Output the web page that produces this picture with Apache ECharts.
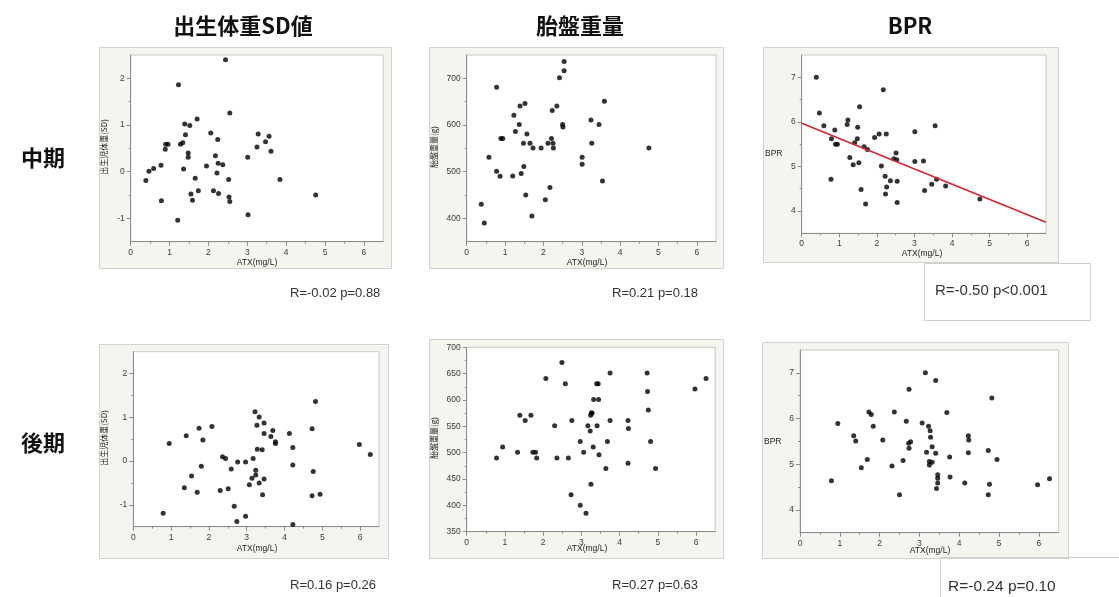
<!DOCTYPE html>
<html><head><meta charset="utf-8">
<script src="https://cdn.jsdelivr.net/npm/echarts@6/dist/echarts.min.js"></script>
<style>html,body{margin:0;padding:0;background:#fff}#c{width:1119px;height:597px}</style>
</head><body><div id="c"></div>
<script>
// ---- data ----
const colTitles = ['出生体重SD値', '胎盤重量', 'BPR'];
const rowTitles = ['中期', '後期'];
const xName = 'ATX(mg/L)';
const yNames = ['出生児体重(SD)', '胎盤重量(g)', 'BPR'];
const statTexts = ['R=-0.02 p=0.88', 'R=0.21 p=0.18', 'R=-0.50 p<0.001', 'R=0.16 p=0.26', 'R=0.27 p=0.63', 'R=-0.24 p=0.10'];
const xTicks = [0, 1, 2, 3, 4, 5, 6];
const yTicksSD = [-1, 0, 1, 2];
const yTicksPlacentaMid = [400, 500, 600, 700];
const yTicksPlacentaLate = [350, 400, 450, 500, 550, 600, 650, 700];
const yTicksBPR = [4, 5, 6, 7];

const midSD = [[0.39,-0.19],[0.47,0.01],[0.59,0.07],[0.78,0.14],[0.79,-0.62],[0.89,0.48],[0.90,0.59],[0.96,0.59],[1.23,1.86],[1.21,-1.04],[1.28,0.59],[1.34,0.62],[1.36,0.06],[1.39,1.02],[1.41,0.79],[1.48,0.40],[1.48,0.31],[1.52,0.99],[1.55,-0.48],[1.59,-0.61],[1.66,-0.14],[1.71,1.13],[1.74,-0.41],[1.95,0.12],[2.06,0.83],[2.13,-0.41],[2.18,0.34],[2.22,-0.03],[2.24,0.69],[2.25,0.18],[2.26,-0.47],[2.37,0.15],[2.44,2.40],[2.52,-0.17],[2.53,-0.54],[2.55,1.26],[2.55,-0.64],[3.01,0.31],[3.02,-0.92],[3.25,0.53],[3.28,0.81],[3.47,0.64],[3.56,0.76],[3.61,0.44],[3.84,-0.17],[4.76,-0.50]];
const midPlacenta = [[0.38,430],[0.46,390],[0.58,531],[0.78,681],[0.78,501],[0.87,490],[0.89,571],[0.94,571],[1.20,491],[1.23,621],[1.27,586],[1.37,601],[1.39,641],[1.42,496],[1.48,561],[1.49,511],[1.52,646],[1.54,450],[1.57,581],[1.65,561],[1.70,405],[1.73,551],[1.94,551],[2.05,440],[2.12,561],[2.17,466],[2.21,571],[2.23,631],[2.25,561],[2.26,551],[2.35,641],[2.42,701],[2.50,601],[2.51,596],[2.54,716],[2.54,736],[3.01,531],[3.01,516],[3.24,611],[3.26,561],[3.45,601],[3.54,480],[3.59,651],[4.75,551]];
const midBPR = [[0.39,7.00],[0.47,6.20],[0.59,5.91],[0.78,4.71],[0.79,5.62],[0.88,5.82],[0.90,5.50],[0.95,5.50],[1.21,5.94],[1.23,6.04],[1.28,5.20],[1.37,5.04],[1.41,5.53],[1.48,5.62],[1.49,5.88],[1.52,5.08],[1.54,6.34],[1.58,4.48],[1.66,5.44],[1.70,4.16],[1.75,5.38],[1.94,5.65],[2.06,5.73],[2.12,5.01],[2.17,6.72],[2.22,4.78],[2.23,4.38],[2.25,5.73],[2.26,4.54],[2.36,4.68],[2.45,5.17],[2.51,5.30],[2.53,5.15],[2.54,4.67],[2.54,4.19],[3.01,5.78],[3.01,5.11],[3.24,5.12],[3.27,4.46],[3.46,4.60],[3.55,5.91],[3.59,4.71],[3.83,4.56],[4.74,4.27]];
const midBPRFit = [[0, 5.97], [6.5, 3.75]];
const lateSD = [[0.79,-1.19],[0.95,0.40],[1.35,-0.61],[1.40,0.58],[1.54,-0.34],[1.69,-0.71],[1.74,0.75],[1.80,-0.12],[1.84,0.48],[2.08,0.79],[2.30,-0.67],[2.36,0.10],[2.44,0.06],[2.51,-0.63],[2.59,-0.18],[2.67,-1.03],[2.74,-1.38],[2.76,-0.02],[2.97,-0.02],[2.97,-1.26],[3.07,-0.54],[3.14,-0.39],[3.17,0.06],[3.22,1.13],[3.24,-0.21],[3.24,-0.32],[3.27,0.82],[3.28,0.27],[3.33,1.01],[3.33,-0.50],[3.41,0.26],[3.42,-0.77],[3.46,0.87],[3.46,0.63],[3.46,-0.41],[3.64,0.56],[3.69,0.70],[3.76,0.44],[3.76,0.40],[4.13,0.63],[4.22,0.31],[4.22,-0.09],[4.22,-1.45],[4.73,0.74],[4.73,-0.79],[4.76,-0.24],[4.82,1.36],[4.94,-0.76],[5.98,0.38],[6.27,0.15]];
const latePlacenta = [[0.78,490],[0.94,511],[1.33,501],[1.39,571],[1.53,561],[1.68,571],[1.73,501],[1.80,501],[1.83,490],[2.07,641],[2.30,551],[2.36,490],[2.49,671],[2.58,631],[2.66,490],[2.73,420],[2.75,561],[2.97,521],[2.97,400],[3.06,501],[3.12,385],[3.17,551],[3.23,541],[3.24,571],[3.25,440],[3.26,576],[3.28,575],[3.31,511],[3.32,601],[3.40,631],[3.41,551],[3.44,631],[3.45,601],[3.46,496],[3.64,470],[3.68,521],[3.75,651],[3.75,561],[4.22,480],[4.22,561],[4.23,546],[4.72,651],[4.73,616],[4.75,581],[4.81,521],[4.94,470],[5.97,621],[6.26,641]];
const lateBPR = [[0.79,4.64],[0.95,5.89],[1.35,5.62],[1.40,5.51],[1.54,4.92],[1.69,5.10],[1.73,6.14],[1.79,6.09],[1.84,5.83],[2.08,5.53],[2.31,4.96],[2.37,6.14],[2.50,4.33],[2.59,5.08],[2.67,5.94],[2.73,5.46],[2.78,5.49],[2.74,6.64],[2.74,5.35],[3.07,5.90],[3.15,7.00],[3.18,5.26],[3.23,5.83],[3.27,5.73],[3.28,5.59],[3.32,5.38],[3.25,5.06],[3.25,4.98],[3.32,5.04],[3.41,5.24],[3.43,4.47],[3.46,4.77],[3.46,4.69],[3.46,4.59],[3.41,6.83],[3.69,6.13],[3.76,5.16],[3.77,4.72],[4.14,4.59],[4.23,5.62],[4.24,5.53],[4.23,5.25],[4.73,5.30],[4.73,4.33],[4.76,4.56],[4.82,6.45],[4.95,5.10],[5.97,4.55],[6.27,4.68]];

// ---- layout ----
const panels = [
  {data: midSD,        grid:{left:130.7,top:55,width:252.6,height:186.7}, frame:[99,47,292,221],  yMin:-1.5,yMax:2.5, yTicks:yTicksSD, yName:0, yNamePos:[103.5,147], xNamePos:[257,263], stat:[290,293], statSize:13},
  {data: midPlacenta,  grid:{left:466.7,top:55,width:249.3,height:186.7}, frame:[429,47,294,221], yMin:350,yMax:750, yTicks:yTicksPlacentaMid, yName:1, yNamePos:[433.5,147], xNamePos:[587,263], stat:[612,293], statSize:13},
  {data: midBPR,       grid:{left:801.7,top:55,width:244.3,height:178.3}, frame:[763,47,295,215], yMin:3.5,yMax:7.5, yTicks:yTicksBPR, yName:2, yNamePos:[765,154], xNamePos:[922,253.5], stat:[935,291], statSize:15},
  {data: lateSD,       grid:{left:133.3,top:351.7,width:245.7,height:175}, frame:[99,344,289,214], yMin:-1.5,yMax:2.5, yTicks:yTicksSD, yName:0, yNamePos:[103.5,438], xNamePos:[257,548.5], stat:[290,585], statSize:13},
  {data: latePlacenta, grid:{left:466.7,top:347.3,width:248.5,height:184.4}, frame:[429,339,294,219], yMin:350,yMax:700, yTicks:yTicksPlacentaLate, yName:1, yNamePos:[433.5,438], xNamePos:[587,548.5], stat:[612,585], statSize:13},
  {data: lateBPR,      grid:{left:800,top:350,width:258.7,height:182.7}, frame:[762,342,306,216], yMin:3.5,yMax:7.5, yTicks:yTicksBPR, yName:2, yNamePos:[764,442], xNamePos:[930,551], stat:[948,587], statSize:15.5}
];

const axisColor = '#8c8c8c';
const labelFont = {fontSize: 8.5, color: '#3a3a3a', fontFamily: 'Liberation Sans, Arial, sans-serif'};
const halves = (lo, hi, step) => { const r = []; for (let v = lo + step / 2; v < hi; v += step) r.push(+v.toFixed(3)); return r; };

const grids = [], xAxes = [], yAxes = [], series = [], graphics = [];
panels.forEach((p, i) => {
  grids.push(Object.assign({show: true, backgroundColor: '#fff', borderColor: '#c8c8c8', borderWidth: 1, containLabel: false, outerBoundsMode: 'none'}, p.grid));
  graphics.push({type: 'rect', z: -10, shape: {x: p.frame[0] + 0.5, y: p.frame[1] + 0.5, width: p.frame[2], height: p.frame[3]}, style: {fill: '#f5f5f0', stroke: '#d2d2d2', lineWidth: 1}});
  // main axes
  xAxes.push({gridIndex: i, type: 'value', min: 0, max: 6.5, splitLine: {show: false},
    axisLine: {show: true, onZero: false, lineStyle: {color: axisColor}},
    axisTick: {show: true, length: 4, lineStyle: {color: axisColor}, customValues: xTicks},
    axisLabel: Object.assign({margin: 6, customValues: xTicks}, labelFont)});
  yAxes.push({gridIndex: i, type: 'value', min: p.yMin, max: p.yMax, splitLine: {show: false},
    axisLine: {show: true, onZero: false, lineStyle: {color: axisColor}},
    axisTick: {show: true, length: 4, lineStyle: {color: axisColor}, customValues: p.yTicks},
    axisLabel: Object.assign({margin: 6, customValues: p.yTicks}, labelFont)});
  // minor-tick axes
  const ystep = p.yTicks[1] - p.yTicks[0];
  xAxes.push({gridIndex: i, type: 'value', min: 0, max: 6.5, position: 'bottom', splitLine: {show: false},
    axisLine: {show: false, onZero: false}, axisLabel: {show: false},
    axisTick: {show: true, length: 2, lineStyle: {color: axisColor}, customValues: halves(0, 6.5, 1)}});
  yAxes.push({gridIndex: i, type: 'value', min: p.yMin, max: p.yMax, position: 'left', splitLine: {show: false},
    axisLine: {show: false, onZero: false}, axisLabel: {show: false},
    axisTick: {show: true, length: 2, lineStyle: {color: axisColor}, customValues: halves(p.yTicks[0] - ystep, p.yMax, ystep).filter(v => v > p.yMin && v < p.yMax)}});
  series.push({type: 'scatter', xAxisIndex: 2 * i, yAxisIndex: 2 * i, data: p.data, symbolSize: 5, itemStyle: {color: '#000'}, silent: true});
  // axis names
  if (p.yName === 2) {
    graphics.push({type: 'text', x: p.yNamePos[0], y: p.yNamePos[1], style: {text: yNames[2], fontSize: 8.5, fill: '#222', fontFamily: 'Liberation Sans, Arial, sans-serif', align: 'left', verticalAlign: 'middle'}});
  } else {
    graphics.push({type: 'text', x: p.yNamePos[0], y: p.yNamePos[1], rotation: Math.PI / 2, style: {text: yNames[p.yName], fontSize: 8, fill: '#222', fontFamily: '"Noto Sans CJK JP", sans-serif', align: 'center', verticalAlign: 'middle'}});
  }
  graphics.push({type: 'text', x: p.xNamePos[0], y: p.xNamePos[1], style: {text: xName, fontSize: 8.5, fill: '#222', fontFamily: 'Liberation Sans, Arial, sans-serif', align: 'center', verticalAlign: 'middle'}});
  graphics.push({type: 'text', x: p.stat[0], y: p.stat[1], style: {text: statTexts[i], fontSize: p.statSize, fill: '#333', fontFamily: 'Liberation Sans, Arial, sans-serif', align: 'left', verticalAlign: 'middle'}});
});
series.push({type: 'line', xAxisIndex: 4, yAxisIndex: 4, data: midBPRFit, symbol: 'none', lineStyle: {color: '#d3252f', width: 1.6}, silent: true, z: 3});

// titles
[[243, colTitles[0]], [580, colTitles[1]], [910, colTitles[2]]].forEach(t => {
  graphics.push({type: 'text', x: t[0], y: 26, style: {text: t[1], fontSize: 22, fontWeight: 'bold', fill: '#111', fontFamily: '"Noto Sans CJK JP", sans-serif', align: 'center', verticalAlign: 'middle'}});
});
[[43, 158, rowTitles[0]], [43, 443, rowTitles[1]]].forEach(t => {
  graphics.push({type: 'text', x: t[0], y: t[1], style: {text: t[2], fontSize: 22, fontWeight: 'bold', fill: '#111', fontFamily: '"Noto Sans CJK JP", sans-serif', align: 'center', verticalAlign: 'middle'}});
});
// annotation boxes
graphics.push({type: 'rect', z: -5, shape: {x: 924.5, y: 263.5, width: 166, height: 57}, style: {fill: '#fff', stroke: '#cfcfcf', lineWidth: 1}});
graphics.push({type: 'polyline', z: -5, shape: {points: [[940.5, 597], [940.5, 557.5], [1119, 557.5]]}, style: {fill: null, stroke: '#cfcfcf', lineWidth: 1}});

const chart = echarts.init(document.getElementById('c'), null, {renderer: 'canvas'});
chart.setOption({
  animation: false,
  backgroundColor: '#fff',
  grid: grids, xAxis: xAxes, yAxis: yAxes, series: series,
  graphic: {elements: graphics}
});
</script></body></html>
